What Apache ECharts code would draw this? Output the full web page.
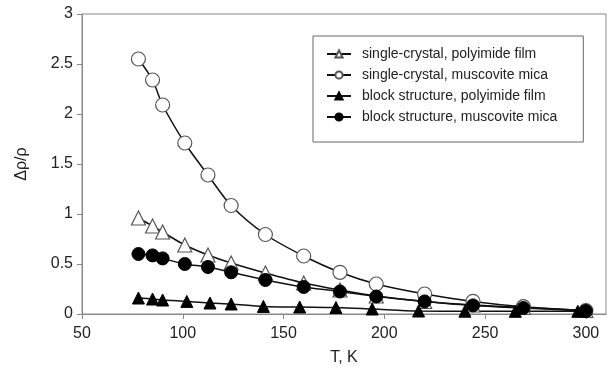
<!DOCTYPE html>
<html>
<head>
<meta charset="utf-8">
<script src="https://cdn.jsdelivr.net/npm/echarts@6/dist/echarts.min.js"></script>
<style>
html,body{margin:0;padding:0;background:#fff;}
#main{width:608px;height:371px;}
</style>
</head>
<body>
<div id="main"></div>
<script>
// temperatures, K
var tempSC = [78, 85, 90, 101, 112.5, 124, 141, 160, 178, 196, 220, 244, 269, 300];
var tempBlock = [78, 85, 90, 102, 113.5, 124, 140, 158, 176, 194, 217, 240, 265, 296];

// delta rho / rho
var scPolyimide = [0.96, 0.88, 0.82, 0.69, 0.59, 0.51, 0.41, 0.31, 0.24, 0.18, 0.125, 0.09, 0.065, 0.035];
var scMica = [2.55, 2.34, 2.09, 1.71, 1.39, 1.085, 0.795, 0.58, 0.417, 0.30, 0.20, 0.126, 0.073, 0.033];
var blockPolyimide = [0.16, 0.15, 0.14, 0.126, 0.11, 0.10, 0.076, 0.07, 0.065, 0.05, 0.03, 0.028, 0.027, 0.027];
var blockMica = [0.60, 0.586, 0.556, 0.50, 0.47, 0.417, 0.34, 0.27, 0.225, 0.175, 0.126, 0.086, 0.06, 0.03];

var seriesNames = [
    'single-crystal, polyimide film',
    'single-crystal, muscovite mica',
    'block structure, polyimide film',
    'block structure, muscovite mica'
];

function pairs(xs, ys) {
    var out = [];
    for (var i = 0; i < xs.length; i++) {
        out.push([xs[i], ys[i]]);
    }
    return out;
}

function makeSeries(name, xs, ys, symbol, size, filled) {
    return {
        name: name,
        type: 'line',
        smooth: 0.3,
        data: pairs(xs, ys),
        symbol: symbol,
        symbolSize: size,
        showAllSymbol: true,
        lineStyle: { color: '#111', width: 1.5 },
        itemStyle: filled
            ? { color: '#000', borderColor: '#000', borderWidth: 1 }
            : { color: '#fff', borderColor: '#555', borderWidth: 1.2 },
        emphasis: { disabled: true }
    };
}

var chart = echarts.init(document.getElementById('main'));

var option = {
    animation: false,
    textStyle: { fontFamily: 'Liberation Sans, Arial, sans-serif' },
    grid: {
        left: 82,
        top: 14,
        right: 2,
        bottom: 55,
        show: true,
        borderColor: '#888',
        borderWidth: 1
    },
    legend: {
        orient: 'vertical',
        left: 313,
        top: 36,
        padding: [11, 26, 18, 13],
        itemGap: 7,
        itemWidth: 24,
        itemHeight: 9,
        borderColor: '#666',
        borderWidth: 1,
        textStyle: { fontSize: 14, color: '#222', padding: [0, 0, 0, 6] },
        data: seriesNames
    },
    xAxis: {
        type: 'value',
        min: 50,
        max: 310,
        interval: 50,
        name: 'T, K',
        nameLocation: 'middle',
        nameGap: 36,
        nameTextStyle: { fontSize: 16, color: '#222' },
        axisLine: { lineStyle: { color: '#888' } },
        axisTick: { length: 5, lineStyle: { color: '#888' } },
        axisLabel: { fontSize: 16, color: '#222', margin: 12, showMaxLabel: false },
        splitLine: { show: false }
    },
    yAxis: {
        type: 'value',
        min: 0,
        max: 3,
        interval: 0.5,
        name: 'Δρ/ρ',
        nameLocation: 'middle',
        nameGap: 52,
        nameTextStyle: { fontSize: 16, color: '#222' },
        axisLine: { show: true, lineStyle: { color: '#888' } },
        axisTick: { show: true, length: 5, lineStyle: { color: '#888' } },
        axisLabel: { fontSize: 16, color: '#222', margin: 9 },
        splitLine: { show: false }
    },
    series: [
        makeSeries(seriesNames[0], tempSC, scPolyimide, 'triangle', 14, false),
        makeSeries(seriesNames[1], tempSC, scMica, 'circle', 14, false),
        makeSeries(seriesNames[2], tempBlock, blockPolyimide, 'triangle', 12, true),
        makeSeries(seriesNames[3], tempSC, blockMica, 'circle', 13, true)
    ]
};
chart.setOption(option);
</script>
</body>
</html>
